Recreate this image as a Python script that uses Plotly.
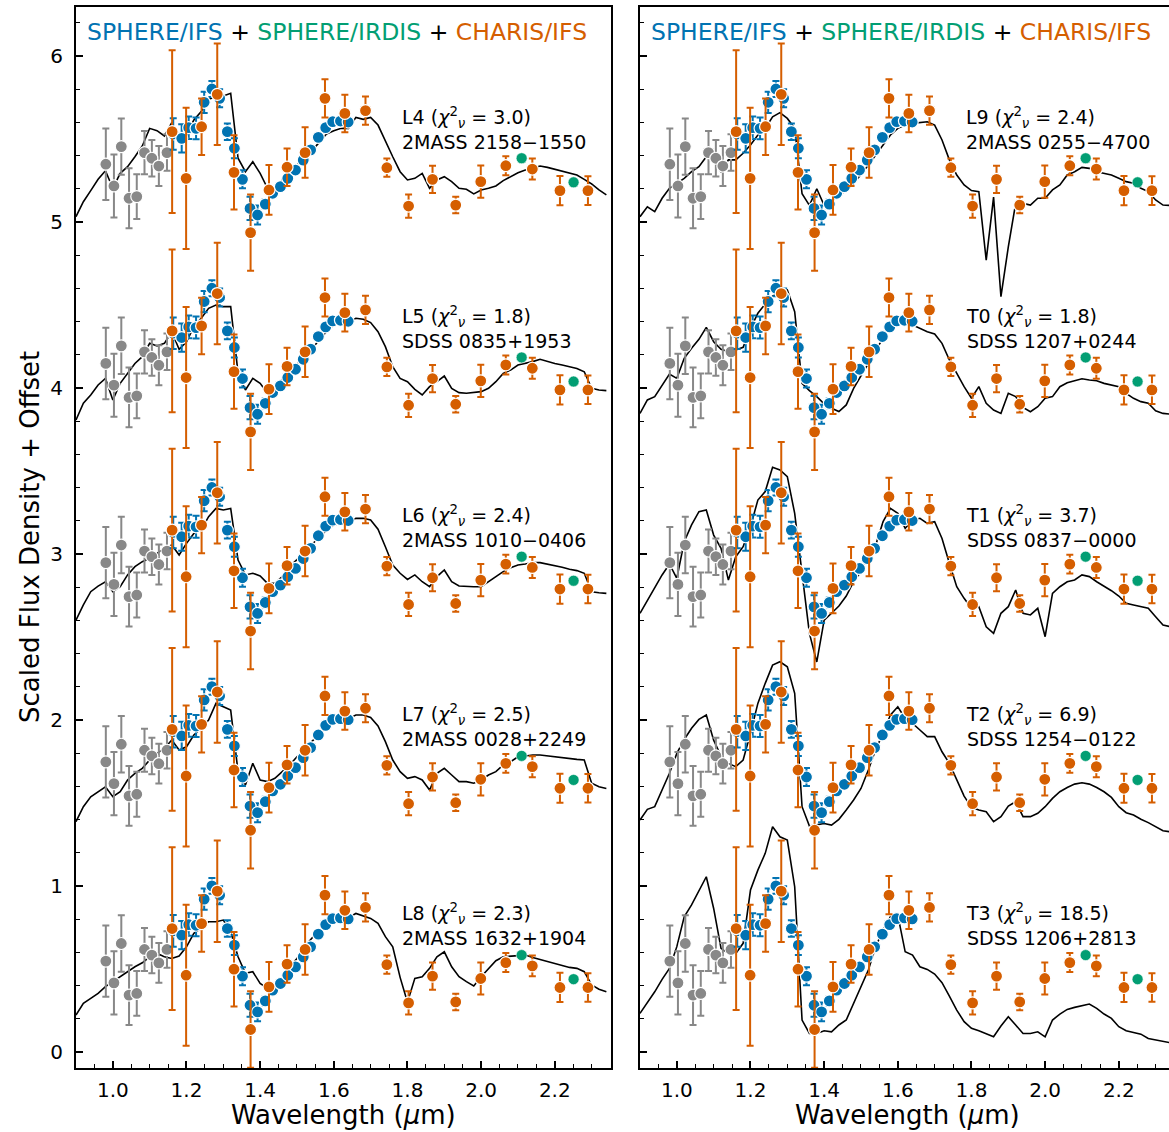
import plotly.graph_objects as go

# ---------------- data (base values, offset 0) ----------------
GRAY_WL = [0.981, 1.003, 1.023, 1.044, 1.065, 1.086, 1.106, 1.125, 1.147]
GRAY_FL = [0.548, 0.417, 0.654, 0.343, 0.353, 0.618, 0.584, 0.537, 0.618]
GRAY_ER = [0.215, 0.19, 0.17, 0.18, 0.135, 0.13, 0.11, 0.12, 0.11]

IFS_WL = [1.164, 1.187, 1.206, 1.226, 1.248, 1.269, 1.290, 1.311, 1.330, 1.352,
          1.3725, 1.393, 1.414, 1.434, 1.455, 1.475, 1.496, 1.517, 1.537, 1.558,
          1.578, 1.597, 1.618, 1.639]
IFS_FL = [0.730, 0.704, 0.768, 0.764, 0.921, 1.001, 0.945, 0.744, 0.644, 0.457,
          0.282, 0.242, 0.308, 0.373, 0.413, 0.463, 0.513, 0.573, 0.634, 0.710,
          0.768, 0.804, 0.808, 0.802]
IFS_ER = [0.095, 0.085, 0.068, 0.066, 0.064, 0.048, 0.054, 0.05, 0.06, 0.054,
          0.07, 0.057, 0.03, 0.025, 0.02, 0.02, 0.02, 0.02, 0.02, 0.02,
          0.02, 0.02, 0.02, 0.02]

CHARIS_WL = [1.161, 1.199, 1.241, 1.2835, 1.329, 1.374, 1.424, 1.473, 1.522, 1.576,
             1.630, 1.686, 1.744, 1.803, 1.868, 1.931, 1.999, 2.067, 2.139, 2.214, 2.290]
CHARIS_FL = [0.744, 0.463, 0.774, 0.969, 0.499, 0.136, 0.393, 0.530, 0.618, 0.945,
             0.854, 0.871, 0.527, 0.296, 0.457, 0.302, 0.443, 0.539, 0.519, 0.389, 0.389]
CHARIS_ER = [0.49, 0.425, 0.17, 0.306, 0.224, 0.23, 0.15, 0.113, 0.152, 0.115,
             0.113, 0.085, 0.055, 0.07, 0.082, 0.05, 0.097, 0.057, 0.063, 0.088, 0.086]

IRDIS_WL = [2.110, 2.251]
IRDIS_FL = [0.584, 0.439]

OFFSETS = [4.8, 3.6, 2.4, 1.2, 0.0]

WAVE = [0.90, 0.92, 0.94, 0.96, 0.98, 1.00, 1.02, 1.04, 1.06, 1.08,
        1.10, 1.12, 1.14, 1.16, 1.18, 1.20, 1.22, 1.24, 1.26, 1.28,
        1.30, 1.32, 1.34, 1.36, 1.38, 1.40, 1.42, 1.44, 1.46, 1.48,
        1.50, 1.52, 1.54, 1.56, 1.58, 1.60, 1.62, 1.64, 1.66, 1.68,
        1.70, 1.72, 1.74, 1.76, 1.78, 1.80, 1.82, 1.84, 1.86, 1.88,
        1.90, 1.92, 1.94, 1.96, 1.98, 2.00, 2.02, 2.04, 2.06, 2.08,
        2.10, 2.12, 2.14, 2.16, 2.18, 2.20, 2.22, 2.24, 2.26, 2.28,
        2.30, 2.32, 2.34]

SPEC_L4 = [0.232, 0.322, 0.389, 0.457, 0.509, 0.403, 0.493, 0.533, 0.593, 0.658,
           0.764, 0.750, 0.718, 0.798, 0.694, 0.730, 0.814, 0.865, 0.939, 0.955,
           0.959, 0.975, 0.584, 0.503, 0.563, 0.493, 0.403, 0.403, 0.453, 0.493,
           0.543, 0.584, 0.630, 0.678, 0.730, 0.750, 0.764, 0.764, 0.830, 0.818,
           0.830, 0.784, 0.684, 0.593, 0.503, 0.453, 0.463, 0.493, 0.403, 0.453,
           0.473, 0.443, 0.403, 0.397, 0.369, 0.393, 0.403, 0.417, 0.449, 0.473,
           0.497, 0.513, 0.523, 0.537, 0.529, 0.517, 0.509, 0.497, 0.483, 0.457,
           0.429, 0.393, 0.363]
SPEC_L5 = [0.207, 0.308, 0.358, 0.418, 0.458, 0.328, 0.428, 0.488, 0.548, 0.589,
           0.669, 0.653, 0.669, 0.739, 0.633, 0.679, 0.769, 0.820, 0.880, 0.900,
           0.890, 0.890, 0.488, 0.388, 0.458, 0.428, 0.368, 0.378, 0.452, 0.498,
           0.545, 0.589, 0.633, 0.689, 0.739, 0.780, 0.794, 0.800, 0.820, 0.814,
           0.794, 0.739, 0.649, 0.528, 0.458, 0.438, 0.392, 0.358, 0.408, 0.438,
           0.472, 0.398, 0.372, 0.368, 0.372, 0.378, 0.398, 0.438, 0.488, 0.508,
           0.538, 0.548, 0.559, 0.573, 0.559, 0.548, 0.538, 0.528, 0.518, 0.498,
           0.398, 0.388, 0.384]
SPEC_L6 = [0.202, 0.293, 0.373, 0.407, 0.433, 0.373, 0.403, 0.474, 0.524, 0.554,
           0.574, 0.604, 0.634, 0.654, 0.594, 0.664, 0.724, 0.745, 0.825, 0.875,
           0.865, 0.875, 0.564, 0.474, 0.484, 0.468, 0.423, 0.423, 0.464, 0.524,
           0.564, 0.608, 0.654, 0.704, 0.741, 0.775, 0.785, 0.795, 0.815, 0.815,
           0.805, 0.749, 0.644, 0.534, 0.484, 0.447, 0.474, 0.433, 0.403, 0.464,
           0.504, 0.433, 0.407, 0.403, 0.403, 0.403, 0.433, 0.464, 0.494, 0.518,
           0.534, 0.540, 0.548, 0.548, 0.540, 0.528, 0.520, 0.508, 0.500, 0.484,
           0.373, 0.367, 0.363]
SPEC_L7 = [0.188, 0.278, 0.338, 0.368, 0.398, 0.338, 0.368, 0.439, 0.479, 0.509,
           0.559, 0.599, 0.629, 0.680, 0.619, 0.639, 0.710, 0.750, 0.800, 0.900,
           0.880, 0.860, 0.489, 0.409, 0.539, 0.439, 0.429, 0.449, 0.489, 0.529,
           0.579, 0.619, 0.670, 0.710, 0.756, 0.780, 0.800, 0.810, 0.830, 0.830,
           0.816, 0.764, 0.670, 0.559, 0.489, 0.449, 0.459, 0.439, 0.378, 0.479,
           0.509, 0.469, 0.429, 0.429, 0.419, 0.439, 0.469, 0.489, 0.529, 0.549,
           0.579, 0.583, 0.589, 0.589, 0.583, 0.579, 0.575, 0.569, 0.563, 0.559,
           0.419, 0.398, 0.388]
SPEC_L8 = [0.223, 0.293, 0.323, 0.353, 0.394, 0.424, 0.454, 0.484, 0.514, 0.538,
           0.574, 0.594, 0.574, 0.564, 0.578, 0.634, 0.715, 0.745, 0.785, 0.785,
           0.795, 0.725, 0.574, 0.474, 0.484, 0.414, 0.384, 0.404, 0.444, 0.514,
           0.564, 0.634, 0.685, 0.735, 0.775, 0.805, 0.819, 0.811, 0.835, 0.819,
           0.805, 0.775, 0.695, 0.634, 0.450, 0.300, 0.444, 0.454, 0.504, 0.574,
           0.604, 0.514, 0.454, 0.424, 0.398, 0.454, 0.504, 0.550, 0.574, 0.578,
           0.584, 0.584, 0.570, 0.558, 0.544, 0.530, 0.518, 0.510, 0.504, 0.484,
           0.404, 0.378, 0.363]
SPEC_L9 = [0.232, 0.292, 0.262, 0.343, 0.403, 0.433, 0.463, 0.503, 0.533, 0.593,
           0.583, 0.500, 0.574, 0.574, 0.614, 0.664, 0.724, 0.764, 0.834, 0.859,
           0.824, 0.764, 0.370, 0.300, 0.400, 0.300, 0.330, 0.360, 0.390, 0.430,
           0.483, 0.543, 0.604, 0.664, 0.724, 0.764, 0.784, 0.794, 0.798, 0.804,
           0.784, 0.694, 0.574, 0.483, 0.423, 0.389, 0.383, -0.030, 0.350, -0.250,
           0.050, 0.312, 0.312, 0.302, 0.343, 0.343, 0.393, 0.423, 0.483, 0.503,
           0.529, 0.523, 0.503, 0.493, 0.483, 0.463, 0.443, 0.433, 0.403, 0.383,
           0.333, 0.302, 0.300]
SPEC_T0 = [0.247, 0.328, 0.348, 0.418, 0.484, 0.458, 0.579, 0.639, 0.693, 0.765,
           0.679, 0.633, 0.619, 0.629, 0.645, 0.759, 0.850, 0.906, 0.954, 0.980,
           0.990, 0.860, 0.428, 0.384, 0.348, 0.304, 0.278, 0.258, 0.298, 0.398,
           0.478, 0.549, 0.629, 0.699, 0.759, 0.800, 0.800, 0.780, 0.759, 0.739,
           0.725, 0.669, 0.569, 0.484, 0.408, 0.338, 0.408, 0.308, 0.267, 0.247,
           0.368, 0.348, 0.283, 0.257, 0.287, 0.338, 0.348, 0.408, 0.432, 0.444,
           0.456, 0.448, 0.444, 0.428, 0.418, 0.408, 0.368, 0.338, 0.318, 0.308,
           0.263, 0.247, 0.243]
SPEC_T1 = [0.243, 0.323, 0.403, 0.474, 0.540, 0.454, 0.674, 0.775, 0.855, 0.865,
           0.714, 0.634, 0.443, 0.584, 0.644, 0.765, 0.925, 0.976, 1.122, 1.106,
           1.066, 0.845, 0.484, 0.122, -0.050, 0.202, 0.243, 0.287, 0.347, 0.433,
           0.494, 0.594, 0.654, 0.795, 0.875, 0.845, 0.755, 0.805, 0.815, 0.785,
           0.795, 0.694, 0.544, 0.403, 0.333, 0.273, 0.283, 0.162, 0.122, 0.243,
           0.283, 0.383, 0.243, 0.233, 0.273, 0.102, 0.363, 0.403, 0.433, 0.444,
           0.474, 0.464, 0.433, 0.407, 0.379, 0.347, 0.303, 0.293, 0.283, 0.273,
           0.222, 0.172, 0.162]
SPEC_T2 = [0.198, 0.262, 0.278, 0.378, 0.479, 0.599, 0.683, 0.750, 0.804, 0.830,
           0.679, 0.583, 0.539, 0.519, 0.559, 0.720, 0.900, 1.021, 1.131, 1.151,
           1.121, 0.961, 0.278, 0.161, 0.167, 0.177, 0.167, 0.202, 0.258, 0.318,
           0.388, 0.499, 0.623, 0.720, 0.830, 0.880, 0.810, 0.780, 0.740, 0.700,
           0.700, 0.609, 0.539, 0.439, 0.342, 0.274, 0.258, 0.248, 0.188, 0.218,
           0.282, 0.308, 0.218, 0.218, 0.238, 0.278, 0.328, 0.368, 0.394, 0.414,
           0.422, 0.414, 0.394, 0.368, 0.334, 0.278, 0.242, 0.228, 0.202, 0.182,
           0.157, 0.133, 0.127]
SPEC_T3 = [0.233, 0.297, 0.363, 0.438, 0.504, 0.635, 0.815, 0.886, 0.972, 1.056,
           0.865, 0.625, 0.594, 0.594, 0.655, 0.976, 1.096, 1.197, 1.357, 1.297,
           1.277, 0.996, 0.193, 0.112, 0.112, 0.128, 0.122, 0.163, 0.193, 0.297,
           0.394, 0.494, 0.635, 0.735, 0.815, 0.825, 0.604, 0.584, 0.514, 0.498,
           0.470, 0.418, 0.337, 0.253, 0.183, 0.143, 0.128, 0.108, 0.092, 0.157,
           0.213, 0.163, 0.112, 0.112, 0.122, 0.092, 0.193, 0.229, 0.257, 0.269,
           0.277, 0.289, 0.263, 0.229, 0.203, 0.153, 0.128, 0.116, 0.108, 0.082,
           0.072, 0.062, 0.056]

LEFT_SPECS = [SPEC_L4, SPEC_L5, SPEC_L6, SPEC_L7, SPEC_L8]
RIGHT_SPECS = [SPEC_L9, SPEC_T0, SPEC_T1, SPEC_T2, SPEC_T3]
LEFT_TYPES = ["L4", "L5", "L6", "L7", "L8"]
RIGHT_TYPES = ["L9", "T0", "T1", "T2", "T3"]
LEFT_CHI = ["3.0", "1.8", "2.4", "2.5", "2.3"]
RIGHT_CHI = ["2.4", "1.8", "3.7", "6.9", "18.5"]
LEFT_NAMES = ["2MASS 2158\u22121550", "SDSS 0835+1953", "2MASS 1010\u22120406",
              "2MASS 0028+2249", "2MASS 1632+1904"]
RIGHT_NAMES = ["2MASS 0255\u22124700", "SDSS 1207+0244", "SDSS 0837\u22120000",
               "SDSS 1254\u22120122", "SDSS 1206+2813"]
LABEL_BASE = 0.766
LABEL_WL = 1.78

# ---------------- style ----------------
BLUE = "#0173b2"
GREEN = "#029e73"
ORANGE = "#d55e00"
GRAY = "#888888"
FONT = "DejaVu Sans"

fig = go.Figure()


def add_panel(xa, ya, specs):
    for spec, off in zip(specs, OFFSETS):
        fig.add_trace(go.Scatter(x=WAVE, y=[v + off for v in spec], mode="lines",
                                 line=dict(color="black", width=1.6),
                                 xaxis=xa, yaxis=ya, showlegend=False, hoverinfo="skip"))
        fig.add_trace(go.Scatter(x=GRAY_WL, y=[v + off for v in GRAY_FL], mode="markers",
                                 marker=dict(color=GRAY, size=12, line=dict(color="white", width=1.2)),
                                 error_y=dict(type="data", array=GRAY_ER, color=GRAY, thickness=2, width=3.5),
                                 xaxis=xa, yaxis=ya, showlegend=False))
        fig.add_trace(go.Scatter(x=IFS_WL, y=[v + off for v in IFS_FL], mode="markers",
                                 marker=dict(color=BLUE, size=12, line=dict(color="white", width=1.2)),
                                 error_y=dict(type="data", array=IFS_ER, color=BLUE, thickness=2, width=3.5),
                                 xaxis=xa, yaxis=ya, showlegend=False))
        fig.add_trace(go.Scatter(x=CHARIS_WL, y=[v + off for v in CHARIS_FL], mode="markers",
                                 marker=dict(color=ORANGE, size=12, line=dict(color="white", width=1.2)),
                                 error_y=dict(type="data", array=CHARIS_ER, color=ORANGE, thickness=2, width=3.5),
                                 xaxis=xa, yaxis=ya, showlegend=False))
        fig.add_trace(go.Scatter(x=IRDIS_WL, y=[v + off for v in IRDIS_FL], mode="markers",
                                 marker=dict(color=GREEN, size=11, line=dict(color="white", width=0.6)),
                                 xaxis=xa, yaxis=ya, showlegend=False))


add_panel("x", "y", LEFT_SPECS)
add_panel("x2", "y2", RIGHT_SPECS)

W, H = 1169, 1132
ydom = [1 - 1068 / H, 1 - 7 / H]

xcommon = dict(tick0=1.0, dtick=0.2, tickformat=".1f", ticks="inside", ticklen=7, tickwidth=1.5,
               tickcolor="black", showline=True, linewidth=2, linecolor="black", mirror=True,
               showgrid=False, zeroline=False, tickfont=dict(family=FONT, size=20, color="black"),
               minor=dict(tick0=0.9, dtick=0.05, ticks="inside", ticklen=4, tickwidth=1.2, tickcolor="black"),
               ticklabelstandoff=3)
ycommon = dict(tick0=0, dtick=1, ticks="inside", ticklen=7, tickwidth=1.5, tickcolor="black",
               showline=True, linewidth=2, linecolor="black", showgrid=False, zeroline=False,
               tickfont=dict(family=FONT, size=20, color="black"),
               minor=dict(tick0=0, dtick=0.2, ticks="inside", ticklen=4, tickwidth=1.2, tickcolor="black"),
               range=[-0.096, 6.295])

fig.update_layout(
    width=W, height=H, margin=dict(l=0, r=0, t=0, b=0),
    plot_bgcolor="white", paper_bgcolor="white",
    xaxis=dict(domain=[76 / W, 611 / W], range=[0.9, 2.3526], anchor="y", **xcommon),
    yaxis=dict(domain=ydom, anchor="x", mirror=True, ticklabelstandoff=7, **ycommon),
    xaxis2=dict(domain=[640 / W, 1.0], range=[0.9, 2.3363], anchor="y2", **xcommon),
    yaxis2=dict(domain=ydom, anchor="x2", mirror=False, showticklabels=False, **ycommon),
)

header = ('<span style="color:%s">SPHERE/IFS</span> + <span style="color:%s">SPHERE/IRDIS</span>'
          ' + <span style="color:%s">CHARIS/IFS</span>' % (BLUE, GREEN, ORANGE))
annotations = []
for xr, yr in (("x", "y"), ("x2", "y2")):
    annotations.append(dict(xref=xr, yref=yr, x=0.924, y=6.145, text=header, showarrow=False,
                            xanchor="left", yanchor="middle", font=dict(family=FONT, size=23.5, color="black")))

for xr, yr, types, chis, names in (("x", "y", LEFT_TYPES, LEFT_CHI, LEFT_NAMES),
                                   ("x2", "y2", RIGHT_TYPES, RIGHT_CHI, RIGHT_NAMES)):
    for t, c, n, off in zip(types, chis, names, OFFSETS):
        txt = "%s (<i>\u03c7</i><sup>2</sup><sub><i>\u03bd</i></sub> = %s)<br>%s" % (t, c, n)
        annotations.append(dict(xref=xr, yref=yr, x=LABEL_WL, y=LABEL_BASE + off, text=txt,
                                showarrow=False, xanchor="left", yanchor="middle", align="left",
                                font=dict(family=FONT, size=19, color="black")))

annotations.append(dict(xref="paper", yref="paper", x=343.5 / W, y=1 - 1115 / H,
                        text="Wavelength (<i>\u03bc</i>m)", showarrow=False, xanchor="center",
                        yanchor="middle", font=dict(family=FONT, size=26, color="black")))
annotations.append(dict(xref="paper", yref="paper", x=907 / W, y=1 - 1115 / H,
                        text="Wavelength (<i>\u03bc</i>m)", showarrow=False, xanchor="center",
                        yanchor="middle", font=dict(family=FONT, size=26, color="black")))
annotations.append(dict(xref="paper", yref="paper", x=30 / W, y=1 - 537 / H,
                        text="Scaled Flux Density + Offset", showarrow=False, textangle=-90,
                        xanchor="center", yanchor="middle", font=dict(family=FONT, size=26, color="black")))
fig.update_layout(annotations=annotations)

fig.write_html("out.html")
